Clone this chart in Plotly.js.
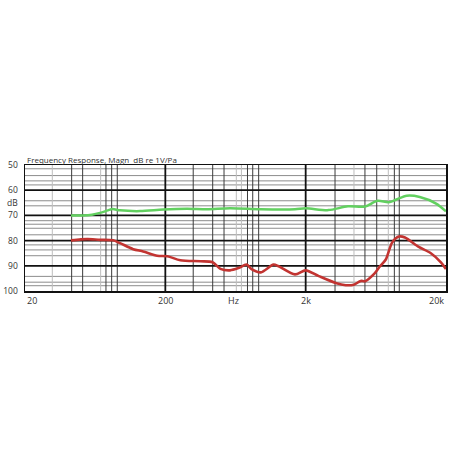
<!DOCTYPE html>
<html>
<head>
<meta charset="utf-8">
<script src="https://cdn.plot.ly/plotly-3.0.1.min.js"></script>
<style>
  html, body { margin: 0; padding: 0; background: #fff; }
  #chart { width: 458px; height: 458px; }
</style>
</head>
<body>
<div id="chart"></div>
<script>
// Green curve (upper trace)
var greenFreq = [42.5, 52, 60, 68.5, 78, 84, 95, 132, 193, 286, 396, 578, 958, 1678, 2000, 2900, 4000, 5300, 6500, 7800, 8800, 10500, 13000, 17000, 20000];
var greenDb = [70.0, 70.0, 69.7, 69.0, 68.0, 67.5, 68.0, 68.3, 67.7, 67.4, 67.6, 67.2, 67.6, 67.6, 67.2, 67.9, 66.4, 66.5, 64.2, 64.8, 63.8, 62.2, 62.7, 65.3, 68.4];

// Red curve (lower trace)
var redFreq = [42.5, 50, 56, 68.5, 84.8, 95, 118, 139, 175, 207, 256, 356, 434, 494, 578, 664, 758, 822, 958, 1180, 1282, 1678, 2000, 2480, 3270, 3860, 4400, 4940, 5300, 6200, 6700, 7450, 8260, 9230, 10200, 12800, 15600, 18400, 20000];
var redDb = [79.9, 79.5, 79.4, 79.7, 79.9, 81.0, 83.4, 84.3, 86.0, 86.2, 87.8, 88.2, 88.6, 91.2, 91.8, 90.9, 89.5, 91.3, 92.6, 89.5, 90.2, 93.4, 91.8, 94.1, 96.8, 97.7, 97.5, 96.0, 96.1, 93.0, 90.5, 87.5, 80.8, 78.4, 78.8, 82.5, 85.0, 88.6, 91.3];

// tick labels
var yTickVals = [50, 60, 64.9, 70, 80, 90, 100];
var yTickText = ['50', '60', 'dB', '70', '80', '90', '100'];
var xLabelVals = [20, 200, 612, 2000, 20000];
var xLabelText = ['20', '200', 'Hz', '2k', '20k'];

// grid lines of the printed sheet
var hMajorDb = [60, 70, 80, 90];
var hMinorDb = [51.5, 54.2, 56.3, 57.9, 64.2, 66.2, 72.1, 73.5, 75.1, 77.7, 81.7, 83.7, 86.0, 94.2, 96.5, 97.9];
var vMajorHz = [200, 2000];
var vDarkHz = [43, 51.5, 75.5, 82.9, 90.9, 316, 435, 524, 770, 839, 925, 3238, 5290, 6417, 8570, 9290];
var vLightHz = [31.3, 69.2, 641, 697, 4418, 7760];

function hLine(v, color, width) {
  return { type: 'line', xref: 'paper', yref: 'y', x0: 0, x1: 1, y0: v, y1: v,
           line: { color: color, width: width }, layer: 'below' };
}
function vLine(v, color, width) {
  return { type: 'line', xref: 'x', yref: 'paper', x0: v, x1: v, y0: 0, y1: 1,
           line: { color: color, width: width }, layer: 'below' };
}

var shapes = [];
hMinorDb.forEach(function (v) { shapes.push(hLine(v, '#8c8c8c', 1)); });
vLightHz.forEach(function (v) { shapes.push(vLine(v, '#bdbdbd', 1)); });
vDarkHz.forEach(function (v) { shapes.push(vLine(v, '#3a3a3a', 1)); });
hMajorDb.forEach(function (v) { shapes.push(hLine(v, '#111', 1.8)); });
vMajorHz.forEach(function (v) { shapes.push(vLine(v, '#111', 1.8)); });

var data = [
  {
    type: 'scatter', mode: 'lines',
    x: greenFreq, y: greenDb,
    line: { color: '#62d060', width: 2.5, shape: 'spline', smoothing: 0.8 },
    hoverinfo: 'x+y'
  },
  {
    type: 'scatter', mode: 'lines',
    x: redFreq, y: redDb,
    line: { color: '#c23431', width: 2.6, shape: 'spline', smoothing: 0.8 },
    hoverinfo: 'x+y'
  }
];

var annotations = xLabelVals.map(function (v, i) {
  var anchor = 'center';
  if (i === 0) anchor = 'left';
  if (i === xLabelVals.length - 1) anchor = 'right';
  return {
    xref: 'x', yref: 'paper', x: Math.log10(v), y: 0,
    xanchor: anchor, yanchor: 'top', yshift: -1,
    text: xLabelText[i], showarrow: false,
    font: { family: 'Open Sans', size: 9, color: '#333' }
  };
});
annotations.push({
  xref: 'paper', yref: 'paper', x: 0, y: 1, xanchor: 'left', yanchor: 'bottom',
  yshift: -2, showarrow: false,
  text: 'Frequency Response, Magn\u00a0 dB re 1V/Pa',
  font: { family: 'Open Sans', size: 8, color: '#333' }
});

var layout = {
  width: 458, height: 458,
  margin: { l: 25, r: 12, t: 165, b: 167 },
  paper_bgcolor: '#fff', plot_bgcolor: '#fff',
  showlegend: false,
  xaxis: {
    type: 'log', range: [Math.log10(20), Math.log10(20000)],
    showgrid: false, zeroline: false, showticklabels: false, ticks: '',
    showline: true, mirror: true, linecolor: '#111', linewidth: 1.5
  },
  yaxis: {
    range: [100, 50], showgrid: false, zeroline: false,
    tickvals: yTickVals, ticktext: yTickText, ticks: '',
    ticklabelstandoff: 4,
    tickfont: { family: 'Open Sans', size: 8.5, color: '#333' },
    showline: true, mirror: true, linecolor: '#111', linewidth: 1.5
  },
  shapes: shapes,
  annotations: annotations
};

Plotly.newPlot('chart', data, layout, { displayModeBar: false, staticPlot: true });
</script>
</body>
</html>
